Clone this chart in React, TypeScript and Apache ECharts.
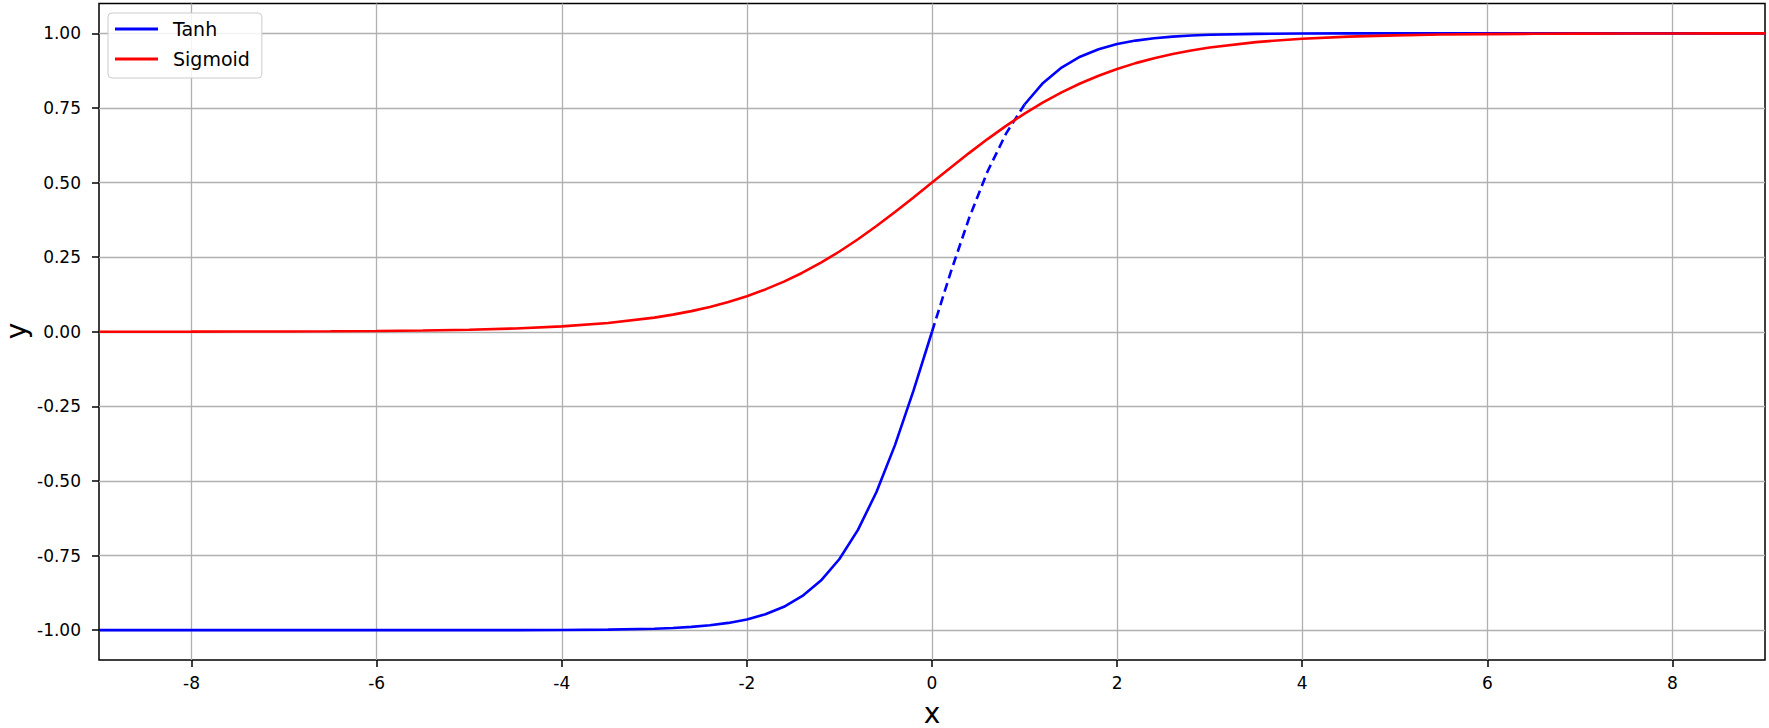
import React, { useEffect, useRef } from "react";
import * as echarts from "echarts";

const xValues = [
  -9, -8.5, -8, -7.5, -7, -6.5, -6, -5.5, -5, -4.5, -4, -3.5,
  -3, -2.8, -2.6, -2.4, -2.2, -2, -1.8, -1.6, -1.4, -1.2, -1, -0.8, -0.6, -0.4, -0.2,
  0, 0.2, 0.4, 0.6, 0.8, 1, 1.2, 1.4, 1.6, 1.8, 2, 2.2, 2.4, 2.6, 2.8, 3,
  3.5, 4, 4.5, 5, 5.5, 6, 6.5, 7, 7.5, 8, 8.5, 9,
];

const tanhValues = [
  -1, -1, -1, -1, -1, -1, -1, -1, -0.9999, -0.9998, -0.9993, -0.9982,
  -0.9951, -0.9926, -0.989, -0.9837, -0.9757, -0.964, -0.9468, -0.9217, -0.8854, -0.8337, -0.7616, -0.664, -0.537, -0.3799, -0.1974,
  0, 0.1974, 0.3799, 0.537, 0.664, 0.7616, 0.8337, 0.8854, 0.9217, 0.9468, 0.964, 0.9757, 0.9837, 0.989, 0.9926, 0.9951,
  0.9982, 0.9993, 0.9998, 0.9999, 1, 1, 1, 1, 1, 1, 1, 1,
];

const sigmoidValues = [
  0.0001, 0.0002, 0.0003, 0.0006, 0.0009, 0.0015, 0.0025, 0.0041, 0.0067, 0.011, 0.018, 0.0293,
  0.0474, 0.0573, 0.0691, 0.0832, 0.0998, 0.1192, 0.1419, 0.168, 0.1978, 0.2315, 0.2689, 0.31, 0.3543, 0.4013, 0.4502,
  0.5, 0.5498, 0.5987, 0.6457, 0.69, 0.7311, 0.7685, 0.8022, 0.832, 0.8581, 0.8808, 0.9002, 0.9168, 0.9309, 0.9427, 0.9526,
  0.9707, 0.982, 0.989, 0.9933, 0.9959, 0.9975, 0.9985, 0.9991, 0.9994, 0.9997, 0.9998, 0.9999,
];

const xTicks = [-8, -6, -4, -2, 0, 2, 4, 6, 8];
const yTicks = [-1, -0.75, -0.5, -0.25, 0, 0.25, 0.5, 0.75, 1];

const dashStart = 0;
const dashEnd = 1;

const FONT = "DejaVu Sans";

export default function App() {
  const ref = useRef<HTMLDivElement>(null);

  useEffect(() => {
    if (!ref.current) return;
    const chart = echarts.init(ref.current, null, { renderer: "svg" });

    const tanhPts = xValues.map((x, i) => [x, tanhValues[i]]);
    const sigPts = xValues.map((x, i) => [x, sigmoidValues[i]]);
    const tanhLeft = tanhPts.filter((p) => p[0] <= dashStart);
    const tanhMid = tanhPts.filter((p) => p[0] >= dashStart && p[0] <= dashEnd);
    const tanhRight = tanhPts.filter((p) => p[0] >= dashEnd);

    const lineBase = { type: "line", showSymbol: false, symbol: "none", smooth: false };

    chart.setOption({
      animation: false,
      grid: {
        left: 99,
        right: 4,
        top: 3.5,
        bottom: 68,
        containLabel: false,
        outerBoundsMode: "none",
        show: true,
        borderColor: "#000",
        borderWidth: 1.5,
        backgroundColor: "#fff",
      },
      graphic: [
        {
          type: "text",
          x: 16,
          y: 331,
          rotation: Math.PI / 2,
          style: {
            text: "y",
            fontFamily: FONT,
            fontSize: 28,
            fill: "#000",
            align: "center",
            verticalAlign: "middle",
          },
        },
      ],
      legend: {
        left: 108,
        top: 13,
        orient: "vertical",
        icon: "rect",
        itemWidth: 43,
        itemHeight: 3,
        itemGap: 10,
        padding: [6, 12, 9, 7],
        backgroundColor: "rgba(255,255,255,0.85)",
        borderColor: "#cccccc",
        borderWidth: 1,
        borderRadius: 4,
        selectedMode: false,
        textStyle: {
          fontFamily: FONT,
          fontSize: 19,
          lineHeight: 20,
          color: "#000",
          padding: [0, 0, 0, 10],
        },
        data: [
          { name: "Tanh", itemStyle: { color: "#0000ff" } },
          { name: "Sigmoid", itemStyle: { color: "#ff0000" } },
        ],
      },
      xAxis: {
        type: "value",
        min: -9,
        max: 9,
        name: "x",
        nameLocation: "middle",
        nameGap: 40,
        nameTextStyle: { fontFamily: FONT, fontSize: 28, lineHeight: 26, color: "#000" },
        axisLine: { show: false, onZero: false },
        axisTick: {
          show: true,
          length: 7,
          customValues: xTicks,
          lineStyle: { color: "#000", width: 1.5 },
        },
        axisLabel: {
          customValues: xTicks,
          margin: 14,
          fontFamily: FONT,
          fontSize: 17,
          color: "#000",
          formatter: (v: number) => String(v),
        },
        splitLine: { show: true, lineStyle: { color: "#b0b0b0", width: 1.3 } },
      },
      yAxis: {
        type: "value",
        min: -1.1,
        max: 1.1,
        axisLine: { show: false, onZero: false },
        axisTick: {
          show: true,
          length: 7,
          customValues: yTicks,
          lineStyle: { color: "#000", width: 1.5 },
        },
        axisLabel: {
          customValues: yTicks,
          margin: 18,
          fontFamily: FONT,
          fontSize: 17,
          color: "#000",
          formatter: (v: number) => v.toFixed(2),
        },
        splitLine: { show: true, lineStyle: { color: "#b0b0b0", width: 1.3 } },
      },
      series: [
        { ...lineBase, name: "Tanh", data: tanhLeft, color: "#0000ff", lineStyle: { color: "#0000ff", width: 2.6 }, z: 2 },
        { ...lineBase, name: "Tanh", data: tanhMid, color: "#0000ff", lineStyle: { color: "#0000ff", width: 2.6, type: [9, 5] }, z: 2 },
        { ...lineBase, name: "Tanh", data: tanhRight, color: "#0000ff", lineStyle: { color: "#0000ff", width: 2.6 }, z: 2 },
        { ...lineBase, name: "Sigmoid", data: sigPts, color: "#ff0000", lineStyle: { color: "#ff0000", width: 2.6 }, z: 3 },
      ],
    });

    return () => chart.dispose();
  }, []);

  return (
    <div
      ref={ref}
      style={{ position: "absolute", left: 0, top: 0, width: 1769, height: 728, background: "#fff" }}
    />
  );
}
